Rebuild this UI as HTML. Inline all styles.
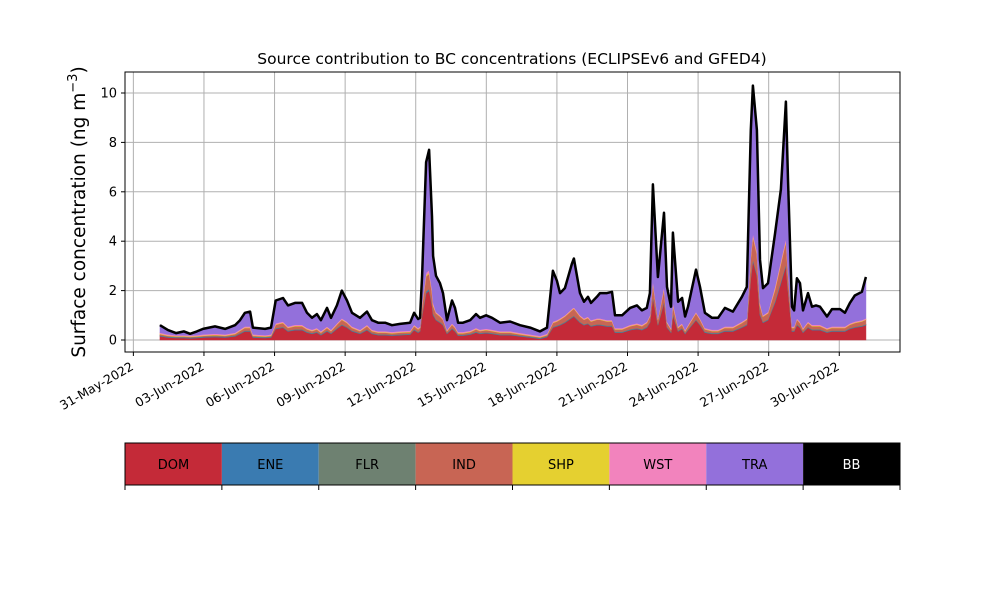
<!DOCTYPE html>
<html><head><meta charset="utf-8"><style>
body{margin:0;background:#fff;}
svg{display:block;font-family:"DejaVu Sans","Liberation Sans",sans-serif;}
</style></head><body>
<svg id="fig" width="1000" height="600" viewBox="0 0 1000 600">
<rect width="1000" height="600" fill="#fff"/>
<text x="512" y="64" text-anchor="middle" font-size="15.5">Source contribution to BC concentrations (ECLIPSEv6 and GFED4)</text>
<text transform="translate(85,212) rotate(-90)" text-anchor="middle" font-size="18.5">Surface concentration (ng m<tspan dy="-8" font-size="13">−3</tspan><tspan dy="8">)</tspan></text>
<g id="grid"></g>
<g id="areas"></g>
<g id="axes"></g>
<g id="cbar"></g>
</svg>
<script>
const days=[0.13,0.47,0.81,1.15,1.41,1.70,1.96,2.47,2.90,3.32,
3.53,3.74,3.96,4.08,4.60,4.85,5.05,5.36,5.57,5.87,
6.17,6.38,6.59,6.80,6.97,7.23,7.40,7.65,7.86,8.08,
8.29,8.63,8.93,9.14,9.40,9.70,9.99,10.33,10.76,10.93,
11.10,11.18,11.27,11.44,11.57,11.69,11.74,11.86,12.03,12.16,
12.33,12.54,12.67,12.80,13.01,13.31,13.56,13.73,13.99,14.24,
14.58,15.01,15.43,15.86,16.28,16.58,16.83,17.00,17.13,17.34,
17.64,17.72,17.98,18.15,18.32,18.45,18.70,18.83,19.13,19.34,
19.47,19.77,20.11,20.40,20.61,20.82,20.95,21.08,21.29,21.55,
21.68,21.85,21.93,22.15,22.32,22.45,22.57,22.91,23.08,23.29,
23.59,23.85,24.14,24.48,24.86,25.07,25.24,25.33,25.50,25.63,
25.76,25.97,26.27,26.52,26.73,26.82,26.99,27.08,27.20,27.33,
27.46,27.67,27.84,28.01,28.18,28.48,28.69,29.03,29.24,29.45,
29.66,29.96,30.13];
const DOM=[.15,.1,.08,.08,.07,.08,.1,.12,.1,.15,
.25,.35,.35,.1,.08,.1,.45,.5,.35,.4,
.4,.3,.25,.3,.2,.35,.25,.45,.6,.5,
.35,.25,.4,.25,.2,.2,.18,.2,.22,.4,
.3,.35,1.0,1.9,2.0,1.4,1.0,.8,.7,.6,
.25,.45,.35,.18,.18,.22,.3,.25,.28,.25,
.2,.2,.15,.1,.05,.12,.5,.55,.6,.7,
.9,.95,.7,.6,.65,.55,.6,.6,.55,.55,
.3,.3,.4,.45,.4,.5,.7,1.7,.6,1.5,
.5,.3,1.0,.35,.45,.25,.4,.8,.6,.3,
.25,.25,.35,.35,.5,.6,2.5,3.2,2.6,1.0,
.7,.8,1.5,2.3,3.0,2.0,.35,.35,.6,.5,
.3,.5,.4,.4,.4,.3,.35,.35,.35,.45,
.5,.55,.6];
const ENE=[.02,.02,.02,.02,.02,.02,.02,.02,.02,.02,
.02,.02,.02,.02,.02,.02,.02,.02,.02,.02,
.02,.02,.02,.02,.02,.02,.02,.02,.02,.02,
.02,.02,.02,.02,.02,.02,.02,.02,.02,.02,
.02,.02,.05,.05,.05,.05,.05,.02,.02,.02,
.02,.02,.02,.02,.02,.02,.02,.02,.02,.02,
.02,.02,.02,.02,.02,.02,.02,.02,.02,.02,
.02,.02,.02,.02,.02,.02,.02,.02,.02,.02,
.02,.02,.02,.02,.02,.02,.02,.05,.02,.05,
.02,.02,.05,.02,.02,.02,.02,.02,.02,.02,
.02,.02,.02,.02,.02,.02,.05,.05,.05,.05,
.02,.02,.05,.05,.05,.05,.02,.02,.02,.02,
.02,.02,.02,.02,.02,.02,.02,.02,.02,.02,
.02,.02,.02];
const FLR=[.02,.02,.02,.02,.02,.02,.02,.02,.02,.02,
.02,.02,.02,.02,.02,.02,.02,.02,.02,.02,
.02,.02,.02,.02,.02,.02,.02,.02,.02,.02,
.02,.02,.02,.02,.02,.02,.02,.02,.02,.02,
.02,.02,.03,.03,.03,.03,.03,.02,.02,.02,
.02,.02,.02,.02,.02,.02,.02,.02,.02,.02,
.02,.02,.02,.02,.02,.02,.02,.02,.02,.02,
.02,.02,.02,.02,.02,.02,.02,.02,.02,.02,
.02,.02,.02,.02,.02,.02,.02,.03,.02,.03,
.02,.02,.03,.02,.02,.02,.02,.02,.02,.02,
.02,.02,.02,.02,.02,.02,.03,.03,.03,.03,
.02,.02,.03,.03,.03,.03,.02,.02,.02,.02,
.02,.02,.02,.02,.02,.02,.02,.02,.02,.02,
.02,.02,.02];
const IND=[.05,.03,.02,.02,.02,.02,.03,.04,.03,.05,
.08,.1,.1,.03,.02,.03,.13,.15,.1,.12,
.12,.09,.07,.09,.06,.1,.07,.13,.18,.15,
.1,.07,.12,.07,.06,.06,.05,.06,.06,.12,
.09,.1,.3,.6,.6,.42,.3,.24,.21,.18,
.07,.13,.1,.05,.05,.06,.09,.07,.08,.07,
.06,.06,.04,.03,.02,.04,.15,.16,.18,.21,
.27,.28,.21,.18,.2,.16,.18,.18,.16,.16,
.09,.09,.12,.13,.12,.15,.21,.5,.18,.45,
.15,.09,.3,.1,.13,.07,.12,.24,.18,.09,
.07,.07,.1,.1,.15,.18,.75,.9,.78,.3,
.21,.24,.45,.7,.9,.6,.1,.1,.18,.15,
.09,.15,.12,.12,.12,.09,.1,.1,.1,.13,
.15,.16,.18];
const SHP=[.02,.02,.02,.02,.02,.02,.02,.02,.02,.02,
.02,.02,.02,.02,.02,.02,.02,.02,.02,.02,
.02,.02,.02,.02,.02,.02,.02,.02,.02,.02,
.02,.02,.02,.02,.02,.02,.02,.02,.02,.02,
.02,.02,.05,.05,.05,.05,.05,.02,.02,.02,
.02,.02,.02,.02,.02,.02,.02,.02,.02,.02,
.02,.02,.02,.02,.02,.02,.02,.02,.02,.02,
.02,.02,.02,.02,.02,.02,.02,.02,.02,.02,
.02,.02,.02,.02,.02,.02,.02,.05,.02,.05,
.02,.02,.05,.02,.02,.02,.02,.02,.02,.02,
.02,.02,.02,.02,.02,.02,.05,.05,.05,.05,
.02,.02,.05,.05,.05,.05,.02,.02,.02,.02,
.02,.02,.02,.02,.02,.02,.02,.02,.02,.02,
.02,.02,.02];
const WST=[.04,.04,.04,.04,.04,.04,.04,.04,.04,.04,
.04,.04,.04,.04,.04,.04,.04,.04,.04,.04,
.04,.04,.04,.04,.04,.04,.04,.04,.04,.04,
.04,.04,.04,.04,.04,.04,.04,.04,.04,.04,
.04,.04,.1,.1,.1,.1,.1,.04,.04,.04,
.04,.04,.04,.04,.04,.04,.04,.04,.04,.04,
.04,.04,.04,.04,.04,.04,.04,.04,.04,.04,
.04,.04,.04,.04,.04,.04,.04,.04,.04,.04,
.04,.04,.04,.04,.04,.04,.04,.1,.04,.1,
.04,.04,.1,.04,.04,.04,.04,.04,.04,.04,
.04,.04,.04,.04,.04,.04,.1,.1,.1,.1,
.04,.04,.1,.1,.1,.1,.04,.04,.04,.04,
.04,.04,.04,.04,.04,.04,.04,.04,.04,.04,
.04,.04,.04];
const TRA=[.28,.15,.06,.13,.04,.13,.2,.27,.2,.28,
.35,.53,.58,.25,.23,.25,.9,.93,.83,.86,
.86,.59,.46,.54,.42,.73,.46,.7,1.1,.83,
.53,.46,.51,.36,.32,.32,.25,.27,.3,.46,
.34,.33,1.04,4.44,4.84,2.92,1.84,1.44,1.27,1.0,
.36,.9,.73,.35,.35,.4,.54,.46,.52,.46,
.32,.37,.29,.25,.16,.22,2.03,1.57,1.0,1.07,
1.81,1.95,.87,.65,.78,.67,.85,1.0,1.07,1.12,
.49,.49,.66,.7,.56,.53,.87,3.84,1.65,2.94,
1.38,.84,2.79,.98,1.0,.51,.71,1.69,1.25,.59,
.46,.46,.73,.58,.98,1.25,4.99,5.94,4.86,1.69,
1.07,1.14,2.09,2.84,5.49,3.64,.78,.63,1.6,1.53,
.69,1.13,.71,.76,.71,.44,.68,.68,.53,.8,
1.03,1.12,1.65];
const BB=[.02,.02,.02,.02,.02,.02,.02,.02,.02,.02,
.02,.02,.02,.02,.02,.02,.02,.02,.02,.02,
.02,.02,.02,.02,.02,.02,.02,.02,.02,.02,
.02,.02,.02,.02,.02,.02,.02,.02,.02,.02,
.02,.02,.03,.03,.03,.03,.03,.02,.02,.02,
.02,.02,.02,.02,.02,.02,.02,.02,.02,.02,
.02,.02,.02,.02,.02,.02,.02,.02,.02,.02,
.02,.02,.02,.02,.02,.02,.02,.02,.02,.02,
.02,.02,.02,.02,.02,.02,.02,.03,.02,.03,
.02,.02,.03,.02,.02,.02,.02,.02,.02,.02,
.02,.02,.02,.02,.02,.02,.03,.03,.03,.03,
.02,.02,.03,.03,.03,.03,.02,.02,.02,.02,
.02,.02,.02,.02,.02,.02,.02,.02,.02,.02,
.02,.02,.02];
const seriesNames=["DOM","ENE","FLR","IND","SHP","WST","TRA","BB"];
const seriesColors=["#c42a38","#3a7bb1","#6e8171","#c86554","#e5d030","#f283bd","#9370db","#000000"];
const yTicks=[0,2,4,6,8,10];
const xTickDays=[-1,2,5,8,11,14,17,20,23,26,29];
const xTickLabels=["31-May-2022","03-Jun-2022","06-Jun-2022","09-Jun-2022","12-Jun-2022","15-Jun-2022","18-Jun-2022","21-Jun-2022","24-Jun-2022","27-Jun-2022","30-Jun-2022"];

const NS="http://www.w3.org/2000/svg";
const L=125,R=900,T=72,B=352;
const xs=d=>156.9+d*23.53;
const ys=v=>340-v*24.7;
function mk(tag,attrs,parent){const e=document.createElementNS(NS,tag);for(const k in attrs)e.setAttribute(k,attrs[k]);parent.appendChild(e);return e;}
const grid=document.getElementById('grid'),areas=document.getElementById('areas'),axes=document.getElementById('axes'),cbar=document.getElementById('cbar');

yTicks.forEach(v=>{
 const g=mk('line',{x1:L,x2:R,y1:ys(v),y2:ys(v),stroke:'#b0b0b0','stroke-width':1},grid);
 
 
 const t=mk('line',{x1:L-4,x2:L,y1:ys(v),y2:ys(v),stroke:'#000'},axes);
 
 
 const lb=mk('text',{x:L-8,y:ys(v)+4.5,'text-anchor':'end','font-size':13},axes);
 lb.textContent=v;
 
 
});
xTickDays.forEach((d,i)=>{
 const x=xs(d);
 const g=mk('line',{x1:x,x2:x,y1:T,y2:B,stroke:'#b0b0b0','stroke-width':1},grid);
 
 
 const t=mk('line',{x1:x,x2:x,y1:B,y2:B+4,stroke:'#000'},axes);
 
 
 const lb=mk('text',{transform:`translate(${x+1},${B+17}) rotate(-30)`,'text-anchor':'end','font-size':12.5},axes);
 lb.textContent=xTickLabels[i];
 
 
});

const series=[DOM,ENE,FLR,IND,SHP,WST,TRA,BB];
let base=days.map(()=>0);
series.forEach((s,k)=>{
 const top=base.map((b,i)=>b+s[i]);
 let d='M'+days.map((dd,i)=>xs(dd).toFixed(1)+','+ys(top[i]).toFixed(1)).join('L');
 for(let i=days.length-1;i>=0;i--)d+='L'+xs(days[i]).toFixed(1)+','+ys(base[i]).toFixed(1);
 d+='Z';
 const p=mk('path',{d:d,fill:seriesColors[k],stroke:seriesColors[k],'stroke-width':0.6},areas);
 
 
 base=top;
});
const topLine=mk('path',{d:'M'+days.map((dd,i)=>xs(dd).toFixed(1)+','+ys(base[i]).toFixed(1)).join('L'),fill:'none',stroke:'#000','stroke-width':2.5,'stroke-linejoin':'round'},areas);



const frame=mk('rect',{x:L,y:T,width:R-L,height:B-T,fill:'none',stroke:'#000','stroke-width':1},axes);



const cw=(R-L)/seriesNames.length;
seriesNames.forEach((n,k)=>{
 const r=mk('rect',{x:L+k*cw,y:443,width:cw,height:42,fill:seriesColors[k]},cbar);
 
 
 const t=mk('text',{x:L+k*cw+cw/2,y:469,'text-anchor':'middle','font-size':13,fill:n==='BB'?'#fff':'#000'},cbar);
 t.textContent=n;
 
 
});
for(let k=0;k<=seriesNames.length;k++){
 const t=mk('line',{x1:L+k*cw,x2:L+k*cw,y1:485,y2:490,stroke:'#000'},cbar);
 
 
}
const cf=mk('rect',{x:L,y:443,width:R-L,height:42,fill:'none',stroke:'#000','stroke-width':1},cbar);


</script>
</body></html>
